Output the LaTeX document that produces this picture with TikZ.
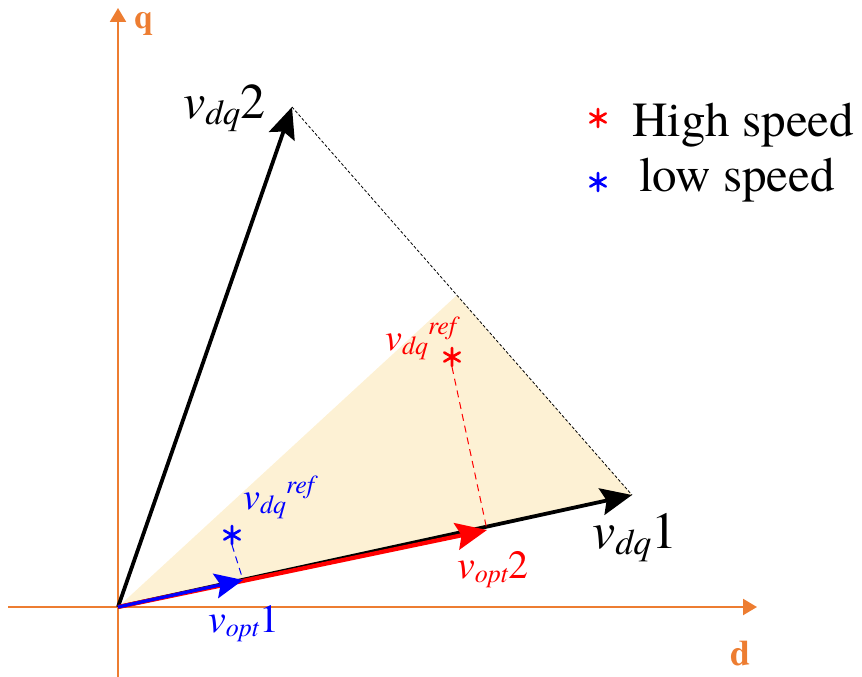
\documentclass[tikz,border=0pt]{standalone}
\usepackage{fontspec}
\setmainfont{texgyretermes}[Extension=.otf,UprightFont=*-regular,BoldFont=*-bold,ItalicFont=*-italic,BoldItalicFont=*-bolditalic]
\usetikzlibrary{arrows.meta,calc}
\definecolor{axor}{RGB}{237,125,49}
\definecolor{shadecol}{RGB}{253,241,212}
\newcommand{\fsz}[1]{\fontsize{#1}{#1}\selectfont}
% \vlb{main size}{sub size}{subscript}{tail}
\newcommand{\vlb}[4]{\fsz{#1}\textit{v}\raisebox{-0.12em}{\fsz{#2}\textit{#3}}#4}
\newcommand{\vref}[2]{\fsz{#1}\textit{v}\raisebox{-0.12em}{\fsz{#2}\textit{dq}}\raisebox{0.42em}{\fsz{#2}\textit{ref}}}
\begin{document}
\begin{tikzpicture}[x=1pt,y=-1pt,
  axis/.style={draw=axor,line width=2.2pt,-{Triangle[length=14pt,width=16pt]}},
  vec/.style={line width=3.8pt,-{Stealth[length=31pt,width=27pt,inset=5pt]}},
  lab/.style={anchor=base west,inner sep=0pt},
  mk/.style={inner sep=0pt,minimum size=0pt},
  astk/.pic={\draw[line width=2.6pt,line cap=round] (0,-9)--(0,9) (-7.8,-4.5)--(7.8,4.5) (-7.8,4.5)--(7.8,-4.5);}]
\useasboundingbox (0,0) rectangle (862,677);
\coordinate (O) at (118,607);
\coordinate (A) at (632,495);
\coordinate (B) at (292,107);
\coordinate (P) at ($(B)!0.485!(A)$);
\coordinate (V2) at (487,530);
\coordinate (V1) at (243,580);
\coordinate (qb) at (118,677);
\coordinate (qt) at (118,8);
\coordinate (dl) at (8,607);
\coordinate (dr) at (757,607);
% shaded region
\fill[shadecol] (O) -- (P) -- (A) -- cycle;
% axes
\draw[axis] (qb) -- (qt);
\draw[axis] (dl) -- (dr);
\node[lab,text=axor] (qlab) at (134,29) {\fsz{34}\textbf{q}};
\node[lab,text=axor] (dlab) at (730,665) {\fsz{36}\textbf{d}};
% dashed boundary
\draw[line width=0.8pt,dash pattern=on 3pt off 2pt] (B) -- (A);
% vectors
\draw[vec] (O) -- (A);
\draw[vec] (O) -- (B);
\draw[vec,red,line width=4.2pt] (O) -- (V2);
\draw[vec,blue,line width=3.2pt,-{Stealth[length=28pt,width=25pt,inset=5pt]}] (O) -- (V1);
% reference points
\node[mk] (sr) at (452,357) {};
\node[mk] (sb) at (232,535) {};
\pic[red] at (sr) {astk};
\pic[blue] at (sb) {astk};
\draw[red,line width=1pt,dash pattern=on 7pt off 5pt] ($(sr)+(0,10)$) -- (V2);
\draw[blue,line width=1pt,dash pattern=on 7pt off 5pt] ($(sb)+(0,10)$) -- (V1);
% labels
\node[lab] (l2) at (183,118) {\vlb{50}{35}{dq}{2}};
\node[lab] (l1) at (592,548) {\vlb{52}{36}{dq}{1}};
\node[lab,text=red] (lo2) at (457,578) {\vlb{40}{26}{opt}{2}};
\node[lab,text=blue] (lo1) at (208,632) {\vlb{40}{26}{opt}{1}};
\node[lab,text=red] (lrr) at (385,350) {\vref{38}{26}};
\node[lab,text=blue] (lrb) at (243,509) {\vref{38}{26}};
% legend
\node[mk] (lgr) at (598,118) {};
\node[mk] (lgb) at (598,182) {};
\pic[red] at (lgr) {astk};
\pic[blue] at (lgb) {astk};
\node[lab] (hs) at (632,136) {\fsz{49}High speed};
\node[lab] (ls) at (639,191) {\fsz{49}low speed};
\end{tikzpicture}
\end{document}
